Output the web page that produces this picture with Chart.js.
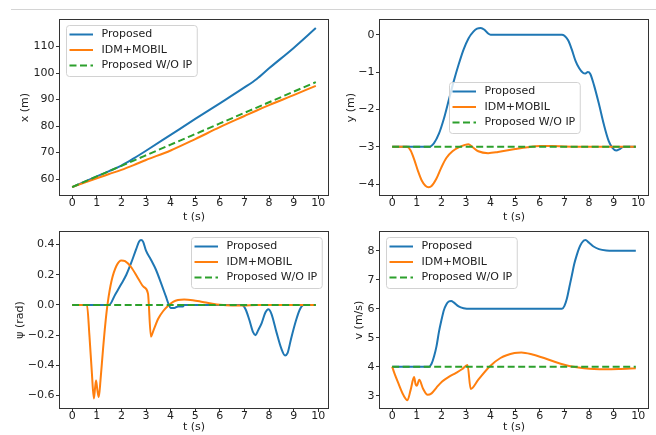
<!DOCTYPE html>
<html>
<head>
<meta charset="utf-8">
<script src="https://cdn.jsdelivr.net/npm/chart.js@4.4.1/dist/chart.umd.min.js"></script>
<style>
  html, body { margin: 0; padding: 0; background: #fff; }
  #page { position: relative; width: 656px; height: 435px; overflow: hidden; }
  .rule { position: absolute; left: 11px; top: 9px; width: 645px; height: 1px; background: #d4d4d4; }
  .panel { position: absolute; }
</style>
</head>
<body>
<div id="page">
  <div class="rule"></div>
  <canvas id="posChart" class="panel" width="335" height="213" style="left:0;top:12px"></canvas>
  <canvas id="latChart" class="panel" width="329" height="213" style="left:326px;top:12px"></canvas>
  <canvas id="headChart" class="panel" width="335" height="211" style="left:0;top:224px"></canvas>
  <canvas id="velChart" class="panel" width="329" height="211" style="left:326px;top:224px"></canvas>
</div>
<script>
/* ===== series names / shared ticks ===== */
const seriesNames = ["Proposed", "IDM+MOBIL", "Proposed W/O IP"];
const timeTicks = [0, 1, 2, 3, 4, 5, 6, 7, 8, 9, 10];

/* ===== x (m) ===== */
const tPos = [0, 1, 1.5, 2, 2.5, 3, 4, 5, 6, 7, 7.5, 8, 9, 9.9];
const posProposed = [57, 61, 63, 65.1, 67.8, 70.7, 76.7, 82.7, 88.6, 94.6, 97.8, 101.8, 109.5, 117];
const posIdm = [57, 60.3, 61.9, 63.5, 65.3, 67.2, 70.8, 75.1, 79.6, 83.8, 85.9, 87.9, 91.7, 95.2];
const posNoIp = [57, 61, 63, 65, 67, 69, 73, 77, 81, 85, 87, 89, 93, 96.6];
const posTicks = [60, 70, 80, 90, 100, 110];

/* ===== y (m) ===== */
const tLatProposed = [0, 1.5, 1.7, 1.9, 2.1, 2.3, 2.5, 2.7, 2.9, 3.1, 3.3, 3.45, 3.6, 3.75, 3.9, 4.0,
  6.9, 7.0, 7.15, 7.3, 7.45, 7.6, 7.75, 7.85, 7.95, 8.05, 8.2, 8.4, 8.6, 8.8, 8.95, 9.1, 9.25, 9.4, 9.9];
const latProposed = [-3, -3, -2.9, -2.65, -2.25, -1.75, -1.25, -0.8, -0.4, -0.1, 0.08, 0.16, 0.18, 0.13, 0.03, 0,
  0, -0.03, -0.15, -0.4, -0.7, -0.9, -1.02, -1.04, -1.0, -1.05, -1.35, -1.85, -2.4, -2.85, -3.03, -3.1, -3.06, -3.0, -3];
const tLatIdm = [0, 0.6, 0.75, 0.9, 1.05, 1.2, 1.35, 1.48, 1.6, 1.8, 2.0, 2.2, 2.45, 2.75, 2.95, 3.1, 3.25, 3.5,
  3.9, 4.3, 5.0, 5.5, 6.0, 6.5, 7.0, 8.0, 9.9];
const latIdm = [-3, -3, -3.1, -3.35, -3.65, -3.9, -4.04, -4.08, -4.05, -3.85, -3.55, -3.3, -3.12, -3.0, -2.95, -2.93, -3.0, -3.12,
  -3.17, -3.14, -3.06, -3.01, -2.98, -2.98, -2.99, -3, -3];
const tLatNoIp = [0, 9.9];
const latNoIp = [-3, -3];
const latTicks = [-4, -3, -2, -1, 0];

/* ===== psi (rad) ===== */
const tHeadProposed = [0, 1.5, 1.75, 2.0, 2.2, 2.4, 2.6, 2.72, 2.8, 2.88, 3.0, 3.2, 3.4, 3.6, 3.8, 3.93, 4.0, 4.15, 4.3, 4.5, 4.55,
  6.9, 7.05, 7.2, 7.35, 7.45, 7.55, 7.7, 7.85, 7.97, 8.1, 8.3, 8.5, 8.65, 8.75, 8.9, 9.1, 9.25, 9.4, 9.9];
const headProposed = [0, 0, 0.07, 0.14, 0.2, 0.28, 0.37, 0.42, 0.43, 0.42, 0.36, 0.3, 0.235, 0.15, 0.06, 0.0, -0.02, -0.02, -0.01, -0.01, 0,
  0, -0.03, -0.1, -0.18, -0.2, -0.17, -0.12, -0.05, -0.028, -0.06, -0.18, -0.29, -0.335, -0.32, -0.22, -0.1, -0.03, 0, 0];
const tHeadIdm = [0, 0.6, 0.7, 0.8, 0.88, 0.93, 0.97, 1.02, 1.08, 1.15, 1.25, 1.35, 1.45, 1.6, 1.8, 2.0, 2.15, 2.4, 2.7, 2.9,
  3.08, 3.2, 3.3, 3.5, 3.7, 3.9, 4.1, 4.3, 4.55, 4.9, 5.3, 5.7, 6.0, 6.5, 7.0, 7.5, 9.9];
const headIdm = [0, 0, -0.2, -0.45, -0.62, -0.55, -0.5, -0.56, -0.61, -0.5, -0.3, -0.12, 0.02, 0.16, 0.26, 0.295, 0.29, 0.25, 0.17, 0.12,
  0.075, -0.21, -0.17, -0.09, -0.04, -0.005, 0.02, 0.033, 0.037, 0.032, 0.02, 0.008, 0.001, -0.004, -0.003, 0, 0];
const tHeadNoIp = [0, 9.9];
const headNoIp = [0, 0];
const headTicks = [-0.6, -0.4, -0.2, 0, 0.2, 0.4];

/* ===== v (m/s) ===== */
const tVelProposed = [0, 1.5, 1.6, 1.7, 1.8, 1.9, 2.0, 2.1, 2.2, 2.3, 2.4, 2.5, 2.7, 2.9, 3.2, 6.9, 7.0, 7.1, 7.2, 7.3, 7.4,
  7.5, 7.6, 7.7, 7.85, 8.0, 8.2, 8.4, 8.7, 9.0, 9.9];
const velProposed = [4, 4, 4.1, 4.35, 4.7, 5.2, 5.6, 5.95, 6.15, 6.25, 6.27, 6.22, 6.08, 6.02, 6.0, 6.0, 6.1, 6.35, 6.75, 7.15, 7.55,
  7.85, 8.1, 8.27, 8.37, 8.28, 8.14, 8.06, 8.01, 8.0, 8.0];
const tVelIdm = [0, 0.1, 0.25, 0.45, 0.62, 0.75, 0.89, 0.95, 1.0, 1.1, 1.25, 1.44, 1.6, 1.8, 2.03, 2.3, 2.58, 2.85, 3.06, 3.19,
  3.5, 3.95, 4.4, 4.97, 5.25, 5.7, 6.2, 6.6, 7.03, 7.37, 7.8, 8.2, 8.67, 9.2, 9.9];
const velIdm = [4, 3.75, 3.43, 3.03, 2.84, 3.2, 3.64, 3.4, 3.34, 3.55, 3.25, 3.03, 3.08, 3.28, 3.49, 3.65, 3.78, 3.92, 4.06, 3.23,
  3.55, 4.0, 4.3, 4.47, 4.49, 4.42, 4.29, 4.17, 4.06, 4.0, 3.95, 3.92, 3.91, 3.92, 3.95];
const tVelNoIp = [0, 9.9];
const velNoIp = [4, 4];
const velTicks = [3, 4, 5, 6, 7, 8];

/* ===== look ===== */
const COLORS = ["#1f77b4", "#ff7f0e", "#2ca02c"];
const INK = "#222";
Chart.defaults.font.family = "'DejaVu Sans', sans-serif";
Chart.defaults.font.size = 11;
Chart.defaults.color = INK;

const pts = (ts, vs) => ts.map((t, i) => ({ x: t, y: vs[i] }));
const fmtTick = (v, d) => Number(v).toFixed(d).replace("-", "\u2212");

// axes box drawn on top of the lines, like matplotlib spines
const frame = {
  id: "frame",
  afterDatasetsDraw(chart) {
    const { ctx, chartArea: a } = chart;
    ctx.save();
    ctx.strokeStyle = "#333";
    ctx.lineWidth = 1;
    ctx.strokeRect(Math.round(a.left) - 0.5, Math.round(a.top) - 0.5,
      Math.round(a.right - a.left) + 1, Math.round(a.bottom - a.top) + 1);
    ctx.restore();
  },
};

// legend box with line handles, placed inside the axes
const boxLegend = {
  id: "boxLegend",
  afterDraw(chart, args, opts) {
    const { ctx, chartArea: a } = chart;
    const sets = chart.data.datasets;
    ctx.save();
    ctx.font = "11px 'DejaVu Sans', sans-serif";
    const textW = Math.max(...sets.map((d) => ctx.measureText(d.label).width));
    const w = 35.5 + textW + 4.5;
    const h = 51;
    let x, y;
    if (opts.loc === "upper left") { x = a.left + 6; y = a.top + 5; }
    else if (opts.loc === "upper right") { x = a.right - 6 - w; y = a.top + 5; }
    else { x = (a.left + a.right - w) / 2; y = (a.top + a.bottom - h) / 2; }
    x = Math.round(x); y = Math.round(y);

    ctx.beginPath();
    ctx.roundRect(x + 0.5, y + 0.5, w, h, 3);
    ctx.fillStyle = "rgba(255,255,255,0.8)";
    ctx.fill();
    ctx.strokeStyle = "#d2d2d2";
    ctx.lineWidth = 1;
    ctx.stroke();

    sets.forEach((d, i) => {
      const cy = y + 9.5 + i * 15.5;
      ctx.beginPath();
      ctx.setLineDash(d.borderDash || []);
      ctx.strokeStyle = d.borderColor;
      ctx.lineWidth = d.borderWidth;
      ctx.moveTo(x + 3.5, cy);
      ctx.lineTo(x + 27, cy);
      ctx.stroke();
      ctx.setLineDash([]);
      ctx.fillStyle = INK;
      ctx.textBaseline = "middle";
      ctx.fillText(d.label, x + 35.5, cy);
    });
    ctx.restore();
  },
};

function series(ts, vs, i) {
  return {
    label: seriesNames[i],
    data: pts(ts, vs),
    borderColor: COLORS[i],
    borderWidth: 2,
    borderDash: i === 2 ? [7, 3.5] : [],
    pointRadius: 0,
    cubicInterpolationMode: "monotone",
    order: 3 - i,
  };
}

function makeChart(id, opt) {
  return new Chart(document.getElementById(id), {
    type: "line",
    data: {
      datasets: [
        series(opt.t[0], opt.v[0], 0),
        series(opt.t[1], opt.v[1], 1),
        series(opt.t[2], opt.v[2], 2),
      ],
    },
    options: {
      responsive: false,
      animation: false,
      events: [],
      layout: { padding: { top: 6, right: 7, left: 0, bottom: 0 } },
      scales: {
        x: {
          type: "linear",
          min: -0.495,
          max: 10.395,
          afterBuildTicks: (s) => { s.ticks = timeTicks.map((v) => ({ value: v })); },
          afterFit: (s) => { s.height = opt.xH; },
          ticks: { autoSkip: false, maxRotation: 0, padding: -2, callback: (v) => fmtTick(v, 0) },
          grid: { drawOnChartArea: false, tickLength: 4, tickColor: "#333" },
          border: { display: false },
          title: { display: true, text: "t (s)", padding: { top: 0, bottom: 1.4 } },
        },
        y: {
          type: "linear",
          min: opt.min,
          max: opt.max,
          afterBuildTicks: (s) => { s.ticks = opt.ticks.map((v) => ({ value: v })); },
          afterFit: (s) => { s.width = opt.yW; },
          ticks: { autoSkip: false, padding: 1.5, callback: (v) => fmtTick(v, opt.dec) },
          grid: { drawOnChartArea: false, tickLength: 4, tickColor: "#333" },
          border: { display: false },
          title: { display: true, text: opt.title, padding: { top: opt.titlePad, bottom: 0 } },
        },
      },
      plugins: {
        legend: { display: false },
        tooltip: { enabled: false },
        boxLegend: { loc: opt.loc },
      },
    },
    plugins: [frame, boxLegend],
  });
}

makeChart("posChart", {
  t: [tPos, tPos, tPos], v: [posProposed, posIdm, posNoIp],
  min: 54, max: 120, ticks: posTicks, dec: 0, title: "x (m)",
  xH: 30, yW: 60, titlePad: 19, loc: "upper left",
});
makeChart("latChart", {
  t: [tLatProposed, tLatIdm, tLatNoIp], v: [latProposed, latIdm, latNoIp],
  min: -4.29, max: 0.39, ticks: latTicks, dec: 0, title: "y (m)",
  xH: 30, yW: 54, titlePad: 19, loc: "center",
});
makeChart("headChart", {
  t: [tHeadProposed, tHeadIdm, tHeadNoIp], v: [headProposed, headIdm, headNoIp],
  min: -0.683, max: 0.483, ticks: headTicks, dec: 1, title: "\u03c8 (rad)",
  xH: 27, yW: 60, titlePad: 13.4, loc: "upper right",
});
makeChart("velChart", {
  t: [tVelProposed, tVelIdm, tVelNoIp], v: [velProposed, velIdm, velNoIp],
  min: 2.574, max: 8.646, ticks: velTicks, dec: 0, title: "v (m/s)",
  xH: 27, yW: 54, titlePad: 26.4, loc: "upper left",
});
</script>
</body>
</html>
